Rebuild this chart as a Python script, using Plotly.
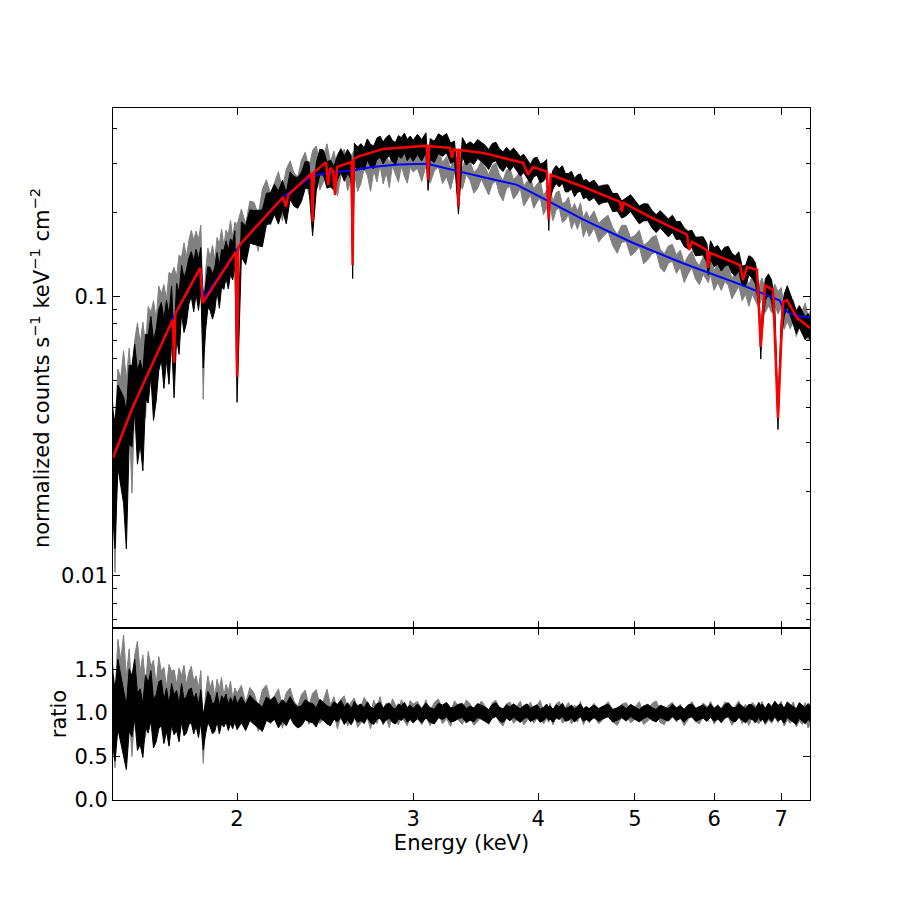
import numpy as np
import plotly.graph_objects as go

# ---------------- channel energies (keV) ----------------
energy_a = [1.50, 1.51, 1.52, 1.53, 1.54, 1.55, 1.56, 1.57, 1.58, 1.59,
            1.60, 1.61, 1.62, 1.63, 1.64, 1.65, 1.66, 1.67, 1.68, 1.69,
            1.70, 1.71, 1.72, 1.73, 1.74, 1.75, 1.76, 1.77, 1.78, 1.79,
            1.80, 1.81, 1.82, 1.83, 1.84, 1.85, 1.86, 1.87, 1.88, 1.89,
            1.90, 1.91, 1.92, 1.93, 1.94, 1.95, 1.96, 1.97, 1.98, 1.99,
            2.00]
energy_b = [2.02, 2.04, 2.06, 2.08, 2.10, 2.12, 2.14, 2.16, 2.18, 2.20,
            2.22, 2.24, 2.26, 2.28, 2.30, 2.32, 2.34, 2.36, 2.38, 2.40,
            2.42, 2.44, 2.46, 2.48, 2.50, 2.52, 2.54, 2.56, 2.58, 2.60,
            2.61,
            2.62, 2.64, 2.66, 2.68, 2.70, 2.72, 2.74, 2.76, 2.78, 2.80,
            2.82, 2.84, 2.86, 2.88, 2.90, 2.92, 2.94, 2.96, 2.98, 3.00]
energy_c = [3.03, 3.06, 3.09, 3.105, 3.12, 3.15, 3.18, 3.21, 3.24, 3.27,
            3.30, 3.33, 3.36, 3.39, 3.42, 3.45, 3.48, 3.51, 3.54, 3.57,
            3.60, 3.63, 3.66, 3.69, 3.72, 3.75, 3.78, 3.81, 3.84, 3.87,
            3.90, 3.93, 3.96, 3.99, 4.02, 4.05, 4.08, 4.10, 4.11, 4.14,
            4.17, 4.20, 4.23, 4.26, 4.29, 4.32, 4.35, 4.38, 4.41, 4.44,
            4.47, 4.50]
energy_d = [4.55, 4.60, 4.65, 4.70, 4.75, 4.80, 4.85, 4.90, 4.95, 5.00,
            5.05, 5.10, 5.15, 5.20, 5.25, 5.30, 5.35, 5.40, 5.45, 5.50,
            5.55, 5.60, 5.65, 5.70, 5.75, 5.80, 5.85, 5.90, 5.92, 5.95,
            6.00, 6.05, 6.10, 6.15, 6.20, 6.25, 6.30, 6.35, 6.40, 6.45,
            6.50, 6.55, 6.60, 6.65, 6.68, 6.70, 6.75, 6.80, 6.85, 6.90,
            6.95, 7.00, 7.05, 7.10, 7.15, 7.20, 7.25, 7.30, 7.35, 7.40,
            7.45, 7.50]

# ---------------- data/model ratios (black data set) ----------------
ratio_black_a = [1.10, 0.86, 1.22, 1.05, 0.92, 0.72, 1.15, 1.08, 1.28, 0.90,
                 0.96, 0.80, 1.14, 1.06, 1.20, 0.88, 0.94, 1.09, 1.12, 0.90,
                 1.04, 0.86, 1.10, 0.98, 1.03, 0.89, 1.12, 0.95, 0.98, 1.07,
                 1.09, 0.96, 1.04, 0.91, 1.08, 0.78, 0.94, 1.07, 1.02, 0.93,
                 0.96, 1.07, 0.92, 1.04, 1.00, 1.06, 0.95, 1.03, 0.97, 1.05,
                 0.96]
ratio_black_b = [1.04, 0.95, 1.06, 1.01, 0.97, 0.93, 1.05, 1.02, 1.06, 0.96,
                 1.03, 0.98, 1.07, 0.99, 0.95, 0.97, 1.04, 1.01, 1.00, 0.95,
                 1.05, 1.02, 0.98, 0.96, 1.03, 1.00, 1.05, 0.97, 1.02, 0.96,
                 0.99,
                 1.04, 0.99, 1.01, 0.97, 1.04, 0.98, 0.96, 1.02, 1.03, 0.97,
                 1.01, 1.03, 0.98, 0.96, 1.02, 1.00, 1.04, 0.98, 1.01, 0.97]
ratio_black_c = [1.02, 0.97, 1.03, 1.00, 0.98, 0.96, 1.03, 1.01, 1.04, 0.98,
                 0.99, 1.02, 1.03, 0.97, 1.00, 0.98, 1.03, 1.01, 0.99, 0.96,
                 1.02, 1.04, 0.99, 0.97, 1.02, 0.99, 1.03, 1.00, 0.97, 1.01,
                 1.03, 0.98, 1.00, 1.02, 0.97, 0.99, 1.03, 0.99, 1.01, 0.97,
                 1.02, 1.00, 1.04, 0.98, 0.99, 1.02, 0.97, 1.01, 1.03, 0.98,
                 1.00, 0.98]
ratio_black_d = [1.02, 0.98, 1.01, 1.03, 0.97, 0.99, 1.02, 0.98, 1.03, 1.00,
                 0.97, 1.01, 1.03, 0.99, 0.97, 1.02, 1.00, 0.98, 1.03, 0.99,
                 1.01, 0.97, 1.02, 1.03, 0.98, 1.00, 1.02, 0.98, 1.00, 1.03,
                 0.98, 1.01, 0.97, 1.02, 1.04, 0.99, 0.98, 1.03, 1.00, 0.97,
                 1.02, 1.01, 0.97, 1.04, 0.99, 1.02, 0.97, 1.03, 0.99, 1.05,
                 1.00, 1.02, 0.97, 1.04, 1.01, 0.98, 0.96, 1.03, 1.00, 0.97,
                 1.02, 0.98]

# ---------------- data/model ratios (grey data set) ----------------
ratio_gray_a = [1.25, 0.78, 1.45, 1.22, 1.52, 1.05, 1.38, 0.85, 1.33, 1.50,
                1.15, 1.36, 1.02, 1.42, 1.25, 1.33, 1.05, 1.38, 1.22, 1.28,
                1.05, 1.32, 1.24, 1.27, 1.10, 1.30, 1.21, 1.34, 1.12, 1.27,
                1.34, 1.17, 1.24, 1.10, 1.30, 0.62, 1.04, 1.25, 1.11, 1.21,
                1.02, 1.22, 1.12, 1.25, 1.04, 1.17, 1.10, 1.22, 1.02, 1.14,
                1.08]
ratio_gray_b = [1.17, 0.97, 1.15, 1.09, 0.93, 1.13, 1.19, 1.01, 1.07, 1.15,
                0.95, 1.11, 1.17, 1.02, 0.96, 1.10, 1.15, 0.98, 1.12, 1.16,
                0.99, 1.04, 1.17, 0.99, 1.09, 0.92, 1.06, 1.10, 0.95, 1.03,
                1.06,
                1.08, 0.93, 0.98, 1.09, 1.03, 0.91, 1.06, 0.97, 1.10, 0.95,
                1.03, 0.92, 1.08, 1.01, 0.95, 1.07, 0.99, 0.94, 1.06, 1.02]
ratio_gray_c = [1.05, 0.95, 1.07, 0.99, 0.94, 1.04, 1.08, 0.96, 1.02, 0.93,
                1.06, 1.00, 0.95, 1.07, 1.03, 0.94, 0.98, 1.06, 1.01, 0.95,
                1.04, 1.07, 0.97, 0.93, 1.03, 1.05, 0.96, 1.00, 1.06, 0.94,
                0.99, 1.05, 0.96, 1.02, 1.07, 0.95, 1.01, 0.97, 1.04, 0.94,
                1.03, 1.06, 0.96, 0.99, 1.05, 0.95, 1.02, 0.97, 1.06, 0.94,
                1.01, 0.96]
ratio_gray_d = [1.04, 0.95, 1.01, 1.06, 0.97, 0.93, 1.03, 1.05, 0.96, 1.00,
                1.06, 0.94, 0.98, 1.04, 1.07, 0.96, 0.94, 1.02, 1.05, 0.97,
                1.03, 0.93, 1.00, 1.06, 0.98, 0.95, 1.04, 1.01, 0.99, 1.06,
                0.95, 1.02, 0.97, 1.05, 1.03, 0.94, 1.00, 1.06, 0.96, 1.02,
                0.94, 1.04, 1.00, 0.96, 1.02, 1.05, 0.95, 1.01, 0.97, 1.04,
                0.98, 1.05, 0.94, 1.01, 0.97, 1.04, 0.93, 1.00, 0.96, 1.03,
                0.92, 0.98]

# ---------------- 1-sigma ratio errors ----------------
ratio_err_a = [0.42, 0.41, 0.40, 0.39, 0.38, 0.37, 0.36, 0.35, 0.34, 0.33,
               0.32, 0.31, 0.30, 0.29, 0.29, 0.28, 0.27, 0.27, 0.26, 0.25,
               0.25, 0.24, 0.24, 0.23, 0.23, 0.22, 0.22, 0.21, 0.21, 0.20,
               0.20, 0.20, 0.19, 0.19, 0.19, 0.20, 0.18, 0.18, 0.18, 0.17,
               0.17, 0.17, 0.16, 0.16, 0.16, 0.16, 0.15, 0.15, 0.15, 0.15,
               0.15]
ratio_err_b = [0.15, 0.15, 0.145, 0.14, 0.14, 0.14, 0.135, 0.13, 0.13, 0.13,
               0.125, 0.125, 0.12, 0.12, 0.12, 0.115, 0.115, 0.11, 0.11, 0.11,
               0.11, 0.105, 0.105, 0.105, 0.10, 0.10, 0.10, 0.10, 0.10, 0.095,
               0.095,
               0.095, 0.095, 0.095, 0.09, 0.09, 0.09, 0.09, 0.09, 0.09, 0.088,
               0.088, 0.088, 0.086, 0.086, 0.086, 0.085, 0.085, 0.085, 0.084, 0.084]
ratio_err_c = [0.085, 0.085, 0.084, 0.085, 0.084, 0.084, 0.083, 0.083, 0.083, 0.082,
               0.082, 0.082, 0.081, 0.081, 0.081, 0.080, 0.080, 0.080, 0.080, 0.079,
               0.079, 0.079, 0.078, 0.078, 0.078, 0.078, 0.077, 0.077, 0.077, 0.077,
               0.076, 0.076, 0.076, 0.076, 0.076, 0.075, 0.075, 0.075, 0.075, 0.075,
               0.075, 0.074, 0.074, 0.074, 0.074, 0.074, 0.074, 0.073, 0.073, 0.073,
               0.073, 0.073]
ratio_err_d = [0.073, 0.073, 0.072, 0.072, 0.072, 0.072, 0.072, 0.071, 0.071, 0.071,
               0.071, 0.071, 0.071, 0.071, 0.072, 0.072, 0.072, 0.072, 0.073, 0.073,
               0.073, 0.074, 0.074, 0.074, 0.075, 0.075, 0.076, 0.076, 0.076, 0.077,
               0.077, 0.078, 0.078, 0.079, 0.079, 0.080, 0.080, 0.081, 0.081, 0.082,
               0.082, 0.083, 0.083, 0.084, 0.086, 0.085, 0.085, 0.086, 0.086, 0.087,
               0.090, 0.088, 0.088, 0.089, 0.089, 0.090, 0.090, 0.091, 0.091, 0.092,
               0.092, 0.093]

# ---------------- models (normalized counts s^-1 keV^-1 cm^-2) ----------------
red_energy = [1.503, 1.569, 1.618, 1.725, 1.730, 1.735, 1.837, 1.848, 1.994, 2.000,
              2.006, 2.014, 2.224, 2.238, 2.250, 2.374, 2.380, 2.386, 2.455, 2.466,
              2.480, 2.495, 2.506, 2.518, 2.604, 2.610, 2.616, 2.643, 2.799, 3.098,
              3.105, 3.112, 3.266, 3.281, 3.295, 3.322, 3.330, 3.338, 3.524, 3.864,
              3.909, 3.954, 4.083, 4.100, 4.117, 4.436, 4.831, 4.850, 4.870, 5.176,
              5.637, 5.663, 5.702, 5.903, 5.916, 5.943, 6.368, 6.412, 6.471, 6.622,
              6.680, 6.745, 6.871, 6.950, 7.030, 7.095, 7.260, 7.482]
red_value = [0.0265, 0.0394, 0.0504, 0.0830, 0.0580, 0.0870, 0.127, 0.0952, 0.145, 0.0517,
             0.150, 0.154, 0.228, 0.210, 0.232, 0.277, 0.186, 0.279, 0.304, 0.252,
             0.290, 0.282, 0.232, 0.292, 0.305, 0.130, 0.312, 0.318, 0.339, 0.348,
             0.263, 0.347, 0.342, 0.315, 0.338, 0.336, 0.211, 0.336, 0.328, 0.302,
             0.274, 0.292, 0.281, 0.189, 0.274, 0.248, 0.219, 0.202, 0.217, 0.1935,
             0.167, 0.147, 0.1575, 0.147, 0.127, 0.1438, 0.130, 0.115, 0.128, 0.125,
             0.0662, 0.110, 0.106, 0.0368, 0.096, 0.0975, 0.0841, 0.0774]
blue_energy = [1.503, 1.569, 1.618, 1.725, 1.735, 1.837, 1.852, 1.994, 2.006, 2.014,
               2.224, 2.380, 2.500, 2.600, 2.730, 2.900, 3.100, 3.190, 3.340, 3.520,
               3.810, 4.020, 4.440, 4.980, 5.585, 6.410, 6.820, 6.980, 7.050, 7.190,
               7.482]
blue_value = [0.0265, 0.0394, 0.0504, 0.0830, 0.0870, 0.127, 0.0985, 0.145, 0.150, 0.154,
              0.228, 0.272, 0.280, 0.283, 0.292, 0.298, 0.300, 0.292, 0.281, 0.269,
              0.252, 0.228, 0.189, 0.156, 0.132, 0.110, 0.100, 0.097, 0.0898, 0.0862,
              0.0841]

x_ticks = [2, 3, 4, 5, 6, 7]
y_major = [0.01, 0.1]
y_minor = [0.007, 0.008, 0.009, 0.02, 0.03, 0.04, 0.05, 0.06, 0.07, 0.08, 0.09,
           0.2, 0.3, 0.4]
ratio_ticks = [0.0, 0.5, 1.0, 1.5]

# ---------------- assemble ----------------
energy = np.array(energy_a + energy_b + energy_c + energy_d)
ratio_black = np.array(ratio_black_a + ratio_black_b + ratio_black_c + ratio_black_d)
ratio_gray = np.array(ratio_gray_a + ratio_gray_b + ratio_gray_c + ratio_gray_d)
ratio_err = np.array(ratio_err_a + ratio_err_b + ratio_err_c + ratio_err_d)
n = len(energy)
if not (len(ratio_black) == n and len(ratio_gray) == n and len(ratio_err) == n):
    raise ValueError(f"length mismatch {n} {len(ratio_black)} {len(ratio_gray)} {len(ratio_err)}")

# data = model x ratio (the ratio panel is data / model)
red_at = np.interp(energy, red_energy, red_value)
blue_at = np.interp(energy, blue_energy, blue_value)
black_counts = red_at * ratio_black
gray_counts = blue_at * ratio_gray
black_err = red_at * ratio_err
gray_err = blue_at * ratio_err

GRAY = "#808080"
FONT = "DejaVu Sans"
FS = 21

fig = go.Figure()


def add_band(y, err, color, xa, ya):
    """data drawn as the band spanned by the error bars (y-err .. y+err)"""
    fig.add_trace(go.Scatter(x=energy, y=y - err, xaxis=xa, yaxis=ya, mode="lines",
                             line=dict(color=color, width=1),
                             showlegend=False, hoverinfo="skip"))
    fig.add_trace(go.Scatter(x=energy, y=y + err, xaxis=xa, yaxis=ya, mode="lines",
                             line=dict(color=color, width=1),
                             fill="tonexty", fillcolor=color,
                             showlegend=False, hoverinfo="skip"))


# upper panel
add_band(gray_counts, gray_err, GRAY, "x2", "y2")
add_band(black_counts, black_err, "black", "x2", "y2")
fig.add_trace(go.Scatter(x=blue_energy, y=blue_value, xaxis="x2", yaxis="y2", mode="lines",
                         line=dict(color="#0000ff", width=2), showlegend=False, hoverinfo="skip"))
fig.add_trace(go.Scatter(x=red_energy, y=red_value, xaxis="x2", yaxis="y2", mode="lines",
                         line=dict(color="#ff0000", width=2.5), showlegend=False, hoverinfo="skip"))

# lower panel (ratio)
add_band(ratio_gray, ratio_err, GRAY, "x", "y")
add_band(ratio_black, ratio_err, "black", "x", "y")

x_range = [np.log10(1.503), np.log10(7.482)]
axis_common = dict(showline=True, linecolor="black", linewidth=1, mirror="allticks",
                   ticks="inside", ticklen=7, tickwidth=1, tickcolor="black",
                   showgrid=False, zeroline=False,
                   tickfont=dict(family=FONT, size=FS, color="black"))

split = 172 / 692.0
fig.update_layout(
    width=900, height=900,
    margin=dict(l=105, r=98, t=100, b=108),
    paper_bgcolor="white", plot_bgcolor="white",
    font=dict(family=FONT, size=FS, color="black"),
    xaxis=dict(type="log", range=x_range, domain=[0, 1], anchor="y",
               tickvals=x_ticks, ticktext=[str(t) for t in x_ticks],
               title=dict(text="Energy (keV)", font=dict(family=FONT, size=FS), standoff=0),
               **axis_common),
    xaxis2=dict(type="log", range=x_range, domain=[0, 1], anchor="y2", matches="x",
                tickvals=x_ticks, showticklabels=False, **axis_common),
    yaxis=dict(range=[0, 1.98], domain=[0, split], anchor="x",
               tickvals=ratio_ticks, ticktext=["0.0", "0.5", "1.0", "1.5"],
               title=dict(text="ratio", font=dict(family=FONT, size=FS), standoff=2),
               **axis_common),
    yaxis2=dict(type="log", range=[np.log10(0.00651), np.log10(0.475)], domain=[split, 1],
                anchor="x2", tickvals=y_major, ticktext=["0.01", "0.1"],
                minor=dict(tickvals=y_minor, ticks="inside", ticklen=4, tickwidth=1,
                           tickcolor="black", showgrid=False),
                title=dict(text="normalized counts s<sup>−1</sup> keV<sup>−1</sup> cm<sup>−2</sup>",
                           font=dict(family=FONT, size=FS), standoff=5),
                **axis_common),
)

fig.write_html("out.html")
